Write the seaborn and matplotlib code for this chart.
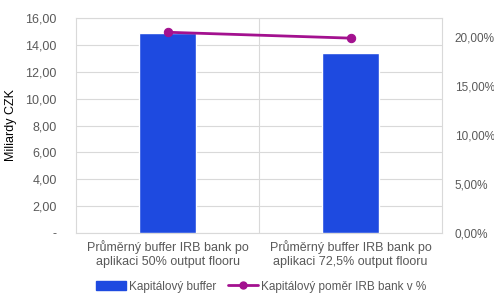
import matplotlib
matplotlib.use('Agg')
import matplotlib.pyplot as plt
import seaborn as sns
import pandas as pd
from matplotlib.ticker import FuncFormatter, MultipleLocator
from matplotlib.lines import Line2D
from matplotlib.patches import Patch

categories = ["Průměrný buffer IRB bank po\naplikaci 50% output flooru",
              "Průměrný buffer IRB bank po\naplikaci 72,5% output flooru"]
buffer_bn = [14.89, 13.41]
ratio_pct = [0.205, 0.199]

sns.set_theme(style="white")
plt.rcParams['font.family'] = ['Liberation Sans', 'DejaVu Sans']

bar_col = "#1e4ae0"
line_col = "#a3118f"
grey = "#595959"

df = pd.DataFrame({"cat": categories, "buffer": buffer_bn, "ratio": ratio_pct})

fig = plt.figure(figsize=(4.94, 2.93), dpi=100)
ax = fig.add_axes([0.154, 0.205, 0.741, 0.733])
sns.barplot(data=df, x="cat", y="buffer", color=bar_col, width=0.31,
            saturation=1, ax=ax, zorder=3)
ax.set_xlim(-0.5, 1.5)
ax.set_ylim(0, 16)
ax.yaxis.set_major_locator(MultipleLocator(2))
ax.yaxis.set_major_formatter(FuncFormatter(
    lambda v, p: "-" if v == 0 else f"{v:.2f}".replace(".", ",")))
ax.grid(axis="y", color="#d9d9d9", linewidth=0.8, zorder=0)
ax.axvline(0.5, color="#d9d9d9", linewidth=0.8, zorder=0)
for s in ax.spines.values():
    s.set_color("#d9d9d9")
    s.set_linewidth(0.8)
ax.set_xlabel("")
ax.set_ylabel("Miliardy CZK", fontsize=9, color="black", labelpad=6)
ax.tick_params(axis="y", labelsize=9, colors=grey, length=0, pad=14)
ax.tick_params(axis="x", labelsize=9, colors=grey, length=0, pad=5)

ax2 = ax.twinx()
sns.lineplot(x=[0, 1], y=df["ratio"], color=line_col, marker="o",
             markersize=6, markeredgecolor=line_col, linewidth=2, ax=ax2, zorder=4)
ax2.set_xlim(-0.5, 1.5)
ax2.set_ylim(0, 0.2194)
ax2.yaxis.set_major_locator(MultipleLocator(0.05))
ax2.yaxis.set_major_formatter(FuncFormatter(
    lambda v, p: f"{v*100:.2f}%".replace(".", ",")))
ax2.tick_params(axis="y", labelsize=8.5, colors=grey, length=0, pad=9)
for s in ax2.spines.values():
    s.set_visible(False)
ax2.set_ylabel("")

handles = [Patch(color=bar_col),
           Line2D([0], [0], color=line_col, marker="o", markersize=5, linewidth=2)]
fig.legend(handles, ["Kapitálový buffer", "Kapitálový poměr IRB bank v %"],
           loc="lower center", bbox_to_anchor=(0.528, -0.035), ncol=2, frameon=False,
           fontsize=8.5, labelcolor=grey, handlelength=2.6, columnspacing=1.0,
           handletextpad=0.2)

fig.savefig("out.png", dpi=100)
